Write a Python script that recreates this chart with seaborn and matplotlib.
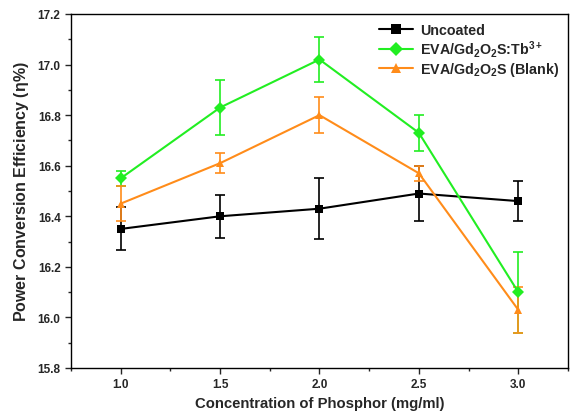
import matplotlib
matplotlib.use("Agg")
import matplotlib.pyplot as plt
import seaborn as sns
import pandas as pd
from matplotlib.ticker import MultipleLocator

sns.set_style("ticks")
plt.rcParams['font.family'] = ['Liberation Sans', 'DejaVu Sans']
plt.rcParams['font.weight'] = 'bold'
plt.rcParams['mathtext.fontset'] = 'custom'
plt.rcParams['mathtext.rm'] = 'Liberation Sans:bold'
plt.rcParams['mathtext.it'] = 'Liberation Sans'
plt.rcParams['mathtext.bf'] = 'Liberation Sans:bold'
plt.rcParams['mathtext.default'] = 'rm'

concentration = [1.0, 1.5, 2.0, 2.5, 3.0]
uncoated = [16.35, 16.40, 16.43, 16.49, 16.46]
uncoated_err = [0.085, 0.085, 0.12, 0.11, 0.08]
tb = [16.55, 16.83, 17.02, 16.73, 16.10]
tb_err = [0.03, 0.11, 0.09, 0.07, 0.16]
blank = [16.45, 16.61, 16.80, 16.57, 16.03]
blank_err = [0.07, 0.04, 0.07, 0.03, 0.09]

labels = ["Uncoated", r"EVA/Gd$_2$O$_2$S:Tb$^{3+}$", r"EVA/Gd$_2$O$_2$S (Blank)"]
colors = ["#000000", "#22EE22", "#FF8C1A"]
markers = ["s", "D", "^"]
series = [uncoated, tb, blank]
errs = [uncoated_err, tb_err, blank_err]

df = pd.DataFrame({
    "x": concentration * 3,
    "y": uncoated + tb + blank,
    "series": [labels[0]] * 5 + [labels[1]] * 5 + [labels[2]] * 5,
})

fig = plt.figure(figsize=(5.71, 4.14), dpi=100)
ax = fig.add_axes([0.1243, 0.1087, 0.8704, 0.8551])

for i in range(3):
    ax.errorbar(concentration, series[i], yerr=errs[i], fmt="none",
                ecolor=colors[i], elinewidth=1.2, capsize=3.5, capthick=1.2, zorder=2)

sns.lineplot(data=df, x="x", y="y", hue="series", style="series",
             palette=dict(zip(labels, colors)), markers=dict(zip(labels, markers)),
             dashes=False, linewidth=1.5, markersize=6, markeredgewidth=0,
             ax=ax, zorder=3)

ax.set_xlim(0.75, 3.25)
ax.set_ylim(15.8, 17.2)
ax.xaxis.set_major_locator(MultipleLocator(0.5))
ax.xaxis.set_minor_locator(MultipleLocator(0.25))
ax.yaxis.set_major_locator(MultipleLocator(0.2))
ax.yaxis.set_minor_locator(MultipleLocator(0.1))
ax.tick_params(axis="both", which="major", direction="out", length=4, width=1, labelsize=8.5, top=False, right=False)
ax.tick_params(axis="both", which="minor", direction="out", length=2.5, width=1, top=False, right=False)
for lab in ax.get_xticklabels() + ax.get_yticklabels():
    lab.set_fontweight("bold")
for s in ax.spines.values():
    s.set_visible(True)
    s.set_linewidth(1.0)
    s.set_color("black")

ax.set_xlabel("Concentration of Phosphor (mg/ml)", fontsize=10.7, fontweight="bold", labelpad=4)
ax.set_ylabel(r"Power Conversion Efficiency ($\mathit{\eta}$%)", fontsize=11.5, fontweight="bold", labelpad=5)

handles, lbls = ax.get_legend_handles_labels()
for h in handles:
    h.set_markersize(7)
leg = ax.legend(handles, lbls, loc="upper right", frameon=False,
                prop={"weight": "bold", "size": 10.3}, handlelength=2.4,
                borderaxespad=0.2, labelspacing=0.1, handletextpad=0.5)

fig.savefig("out.png", dpi=100)
